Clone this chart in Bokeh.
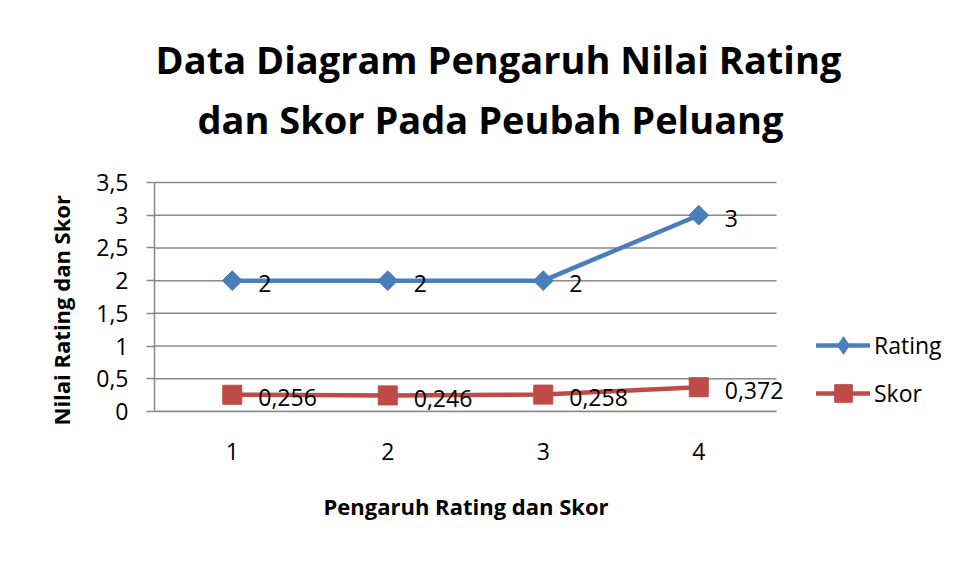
from bokeh.plotting import figure
from bokeh.models import (Range1d, FixedTicker, CustomJSTickFormatter, Label, Title,
                          Legend, LegendItem, ColumnDataSource)
from bokeh.core.properties import value
from bokeh.embed import file_html
from bokeh.resources import INLINE
import math

# ---- data ----
categories = [1, 2, 3, 4]
rating = [2, 2, 2, 3]
skor = [0.256, 0.246, 0.258, 0.372]
y_ticks = [0, 0.5, 1, 1.5, 2, 2.5, 3, 3.5]
title_lines = ["Data Diagram Pengaruh Nilai Rating", "dan Skor Pada Peubah Peluang"]
x_title = "Pengaruh Rating dan Skor"
y_title = "Nilai  Rating dan Skor"
series_names = ["Rating", "Skor"]

def fmt(v):
    return f"{v:g}".replace(".", ",")

# ---- layout (pixels) ----
W, H = 958, 580
PLOT_LEFT, PLOT_RIGHT, PLOT_TOP, PLOT_BOTTOM = 154, 776, 182, 411

BLUE = "#4a7ebb"
RED = "#be4b48"
GRID = "#898989"
FONT = "Open Sans"

x_lo, x_hi = categories[0] - 0.5, categories[-1] + 0.5
y_lo, y_hi = y_ticks[0], y_ticks[-1]
# the frame runs to the right and top edges so that labels and the legend are not clipped
x_end = x_lo + (x_hi - x_lo) * (W - PLOT_LEFT) / (PLOT_RIGHT - PLOT_LEFT)
y_end = y_lo + (y_hi - y_lo) * PLOT_BOTTOM / (PLOT_BOTTOM - PLOT_TOP)

src_r = ColumnDataSource(dict(x=categories, y=rating, t=[fmt(v) for v in rating]))
src_s = ColumnDataSource(dict(x=categories, y=skor, t=[fmt(v) for v in skor]))

p = figure(width=W, height=H, output_backend="svg", toolbar_location=None,
           x_range=Range1d(x_lo, x_end), y_range=Range1d(y_lo, y_end),
           min_border_left=PLOT_LEFT, min_border_right=0,
           min_border_top=0, min_border_bottom=H - PLOT_BOTTOM)
p.outline_line_color = None
p.background_fill_color = "white"
p.border_fill_color = "white"
p.xgrid.visible = False
p.ygrid.visible = False

# horizontal gridlines over the plot area only
p.segment(x0=[x_lo] * len(y_ticks), x1=[x_hi] * len(y_ticks), y0=y_ticks, y1=y_ticks,
          line_color=GRID, line_width=1.5)

# x axis
p.xaxis.bounds = (x_lo, x_hi)
p.xaxis.ticker = FixedTicker(ticks=categories)
p.xaxis.axis_line_color = GRID
p.xaxis.axis_line_width = 1.5
p.xaxis.major_tick_line_color = None
p.xaxis.minor_tick_line_color = None
p.xaxis.major_label_text_font = FONT
p.xaxis.major_label_text_font_size = "23px"
p.xaxis.major_label_text_color = "black"
p.xaxis.major_label_standoff = 25

# y axis
p.yaxis.bounds = (y_lo, y_hi)
p.yaxis.ticker = FixedTicker(ticks=y_ticks)
p.yaxis.formatter = CustomJSTickFormatter(code="return tick.toString().replace('.', ',');")
p.yaxis.axis_line_color = GRID
p.yaxis.axis_line_width = 1.5
p.yaxis.major_tick_line_color = GRID
p.yaxis.major_tick_line_width = 1.5
p.yaxis.major_tick_out = 8
p.yaxis.major_tick_in = 0
p.yaxis.minor_tick_line_color = None
p.yaxis.major_label_text_font = FONT
p.yaxis.major_label_text_font_size = "23px"
p.yaxis.major_label_text_color = "black"
p.yaxis.major_label_standoff = 18

# axis titles as side panels
p.add_layout(Title(text=x_title, align="left", offset=169, standoff=52,
                   text_font=FONT, text_font_style="bold", text_font_size="22px",
                   text_color="black"), "below")
p.add_layout(Title(text=y_title, align="left", offset=-14, standoff=36,
                   text_font=FONT, text_font_style="bold", text_font_size="22px",
                   text_color="black"), "left")

# series
l1 = p.line("x", "y", source=src_r, line_color=BLUE, line_width=4.5, line_join="round", line_cap="round")
s1 = p.scatter("x", "y", source=src_r, marker="square", angle=math.pi / 4, size=14,
               fill_color=BLUE, line_color=BLUE)
l2 = p.line("x", "y", source=src_s, line_color=RED, line_width=4.5, line_join="round", line_cap="round")
s2 = p.scatter("x", "y", source=src_s, marker="square", size=19,
               fill_color=RED, line_color=RED)
# legend-only diamond marker (the legend does not rotate markers); hidden in the plot
k1 = p.scatter("x", "y", source=src_r, marker="diamond", fill_color=BLUE, line_color=BLUE,
               visible=False)

# data labels
for src in (src_r, src_s):
    p.text("x", "y", text="t", source=src, x_offset=26, y_offset=3, text_baseline="middle",
           text_align="left", text_font=value(FONT), text_font_size="23px", text_color="black")

# chart title
title_pos = [(498, 58), (490, 118)]
for line, (xc, ym) in zip(title_lines, title_pos):
    p.add_layout(Label(x=xc - PLOT_LEFT, y=PLOT_BOTTOM - ym,
                       x_units="screen", y_units="screen", text=line,
                       text_align="center", text_baseline="middle",
                       text_font=FONT, text_font_style="bold", text_font_size="38px",
                       text_color="black"))

legend = Legend(items=[LegendItem(label=series_names[0], renderers=[l1, k1]),
                       LegendItem(label=series_names[1], renderers=[l2, s2])],
                location=(816 - PLOT_LEFT, -4), orientation="vertical",
                background_fill_alpha=0, border_line_color=None,
                padding=0, margin=0, spacing=4,
                glyph_width=54, glyph_height=44, label_height=44,
                label_standoff=4, label_text_font=FONT, label_text_font_size="23px",
                label_text_color="black")
p.add_layout(legend)

open("out.html", "w").write(file_html(p, INLINE))
